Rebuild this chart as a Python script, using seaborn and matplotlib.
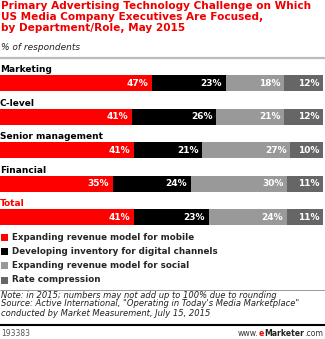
import matplotlib
matplotlib.use("Agg")
import matplotlib.pyplot as plt
import seaborn as sns
import numpy as np
import pandas as pd

categories = ["Marketing", "C-level", "Senior management", "Financial", "Total"]
mobile = [47, 41, 41, 35, 41]
inventory = [23, 26, 21, 24, 23]
social = [18, 21, 27, 30, 24]
rate = [12, 12, 10, 11, 11]
series_names = ["Expanding revenue model for mobile",
                "Developing inventory for digital channels",
                "Expanding revenue model for social",
                "Rate compression"]
colors = ["#ff0000", "#000000", "#999999", "#666666"]

sns.set_theme(style="white")
plt.rcParams['font.family'] = ['DejaVu Sans']

W, H = 325, 339
fig = plt.figure(figsize=(W / 100, H / 100), dpi=100)

top_px, bot_px = 66.2, 234.2
ax = fig.add_axes([0, 1 - bot_px / H, 323 / W, (bot_px - top_px) / H])

vals = np.array([mobile, inventory, social, rate], dtype=float)
totals = vals.sum(axis=0)
norm = vals / totals * 100
cum = np.cumsum(norm, axis=0)

df = pd.DataFrame({"cat": categories})
for k in range(3, -1, -1):
    df["v"] = cum[k]
    sns.barplot(data=df, x="v", y="cat", orient="h", color=colors[k],
                saturation=1, width=0.48, linewidth=0, ax=ax)

for k in range(4):
    for i in range(len(categories)):
        ax.text(cum[k][i] - 1.2, i, f"{int(vals[k][i])}%", ha="right", va="center",
                color="white", fontweight="bold", fontsize=6.5)

for i, c in enumerate(categories):
    ax.text(0, i - 0.40, c, ha="left", va="center", fontweight="bold", fontsize=6.5,
            color="#ff0000" if c == "Total" else "black")

ax.set_xlim(0, 100)
ax.set_ylim(4.5, -0.5)
ax.axis("off")

def fy(px):
    return 1 - px / H

title = ("Primary Advertising Technology Challenge on Which\n"
         "US Media Company Executives Are Focused,\n"
         "by Department/Role, May 2015")
fig.text(1 / W, fy(1), title, ha="left", va="top", color="#ee0000", fontweight="bold",
         fontsize=7.6, linespacing=1.12)
fig.text(1 / W, fy(48), "% of respondents", ha="left", va="center", style="italic",
         fontsize=6.5, color="#222222")
fig.add_artist(plt.Line2D([0, 1], [fy(57.5), fy(57.5)], color="#bbbbbb", lw=1.6))

leg_y = [237, 251, 265, 280]
for y, c, name in zip(leg_y, colors, series_names):
    fig.add_artist(plt.Rectangle((1 / W, fy(y + 3.5)), 7 / W, 7 / H, color=c, lw=0))
    fig.text(12 / W, fy(y), name, ha="left", va="center", fontweight="bold", fontsize=6.3)

fig.add_artist(plt.Line2D([0, 1], [fy(289.5), fy(289.5)], color="#999999", lw=0.7))
note = ("Note: in 2015; numbers may not add up to 100% due to rounding\n"
        "Source: Active International, \"Operating in Today's Media Marketplace\"\n"
        "conducted by Market Measurement, July 15, 2015")
fig.text(1 / W, fy(290.5), note, ha="left", va="top", style="italic", fontsize=6.0,
         color="#222222", linespacing=1.0)
fig.add_artist(plt.Line2D([0, 1], [fy(324.5), fy(324.5)], color="black", lw=1.5))
fig.text(1 / W, fy(333), "193383", ha="left", va="center", fontsize=5.5, color="#555555")

# footer brand, built right-to-left
fig.canvas.draw()
r = fig.canvas.get_renderer()
x = 323
parts = [(".com", "normal", "#333333"), ("Marketer", "bold", "#222222"),
         ("e", "bold", "#ee0000"), ("www.", "normal", "#333333")]
for txt, wgt, col in parts:
    t = fig.text(x / W, fy(333), txt, ha="right", va="center", fontsize=5.6,
                 color=col, fontweight=wgt)
    bb = t.get_window_extent(r)
    x = bb.x0 - 0.1

fig.savefig("out.png", dpi=100)
